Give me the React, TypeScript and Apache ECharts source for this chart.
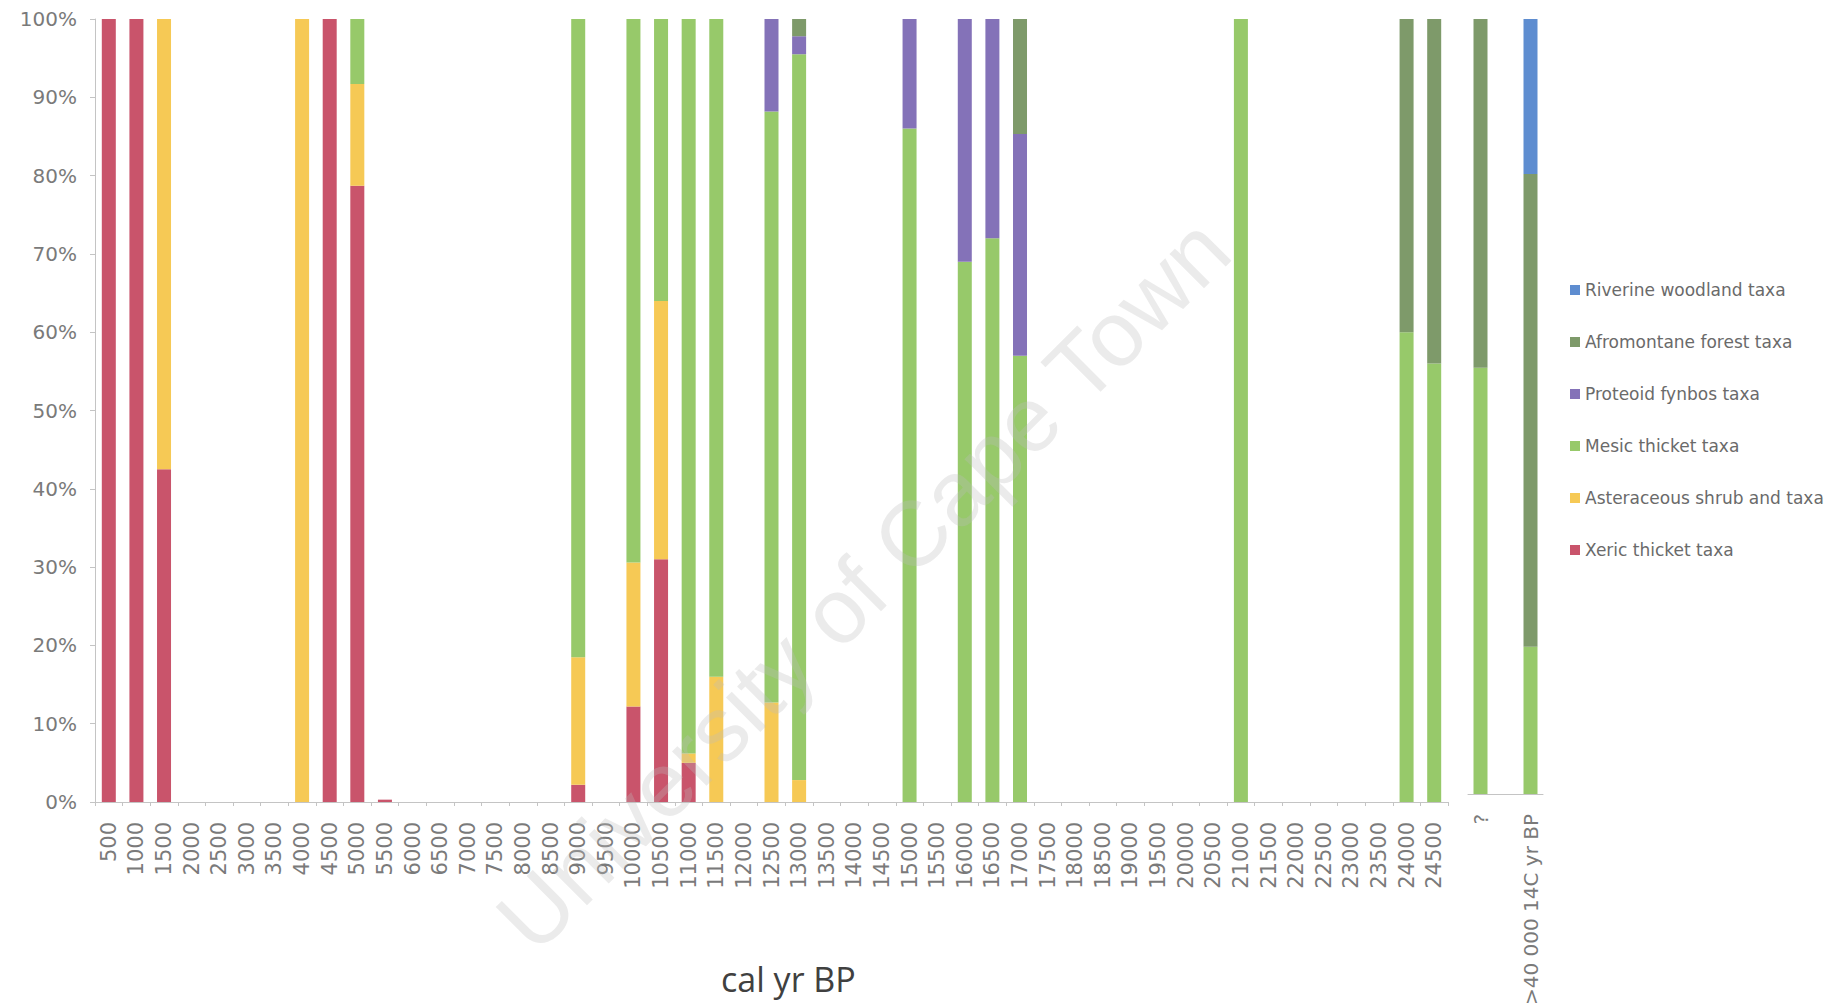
import React, { useEffect, useRef } from "react";
import * as echarts from "echarts";

// Main sequence categories (cal yr BP)
const categories: string[] = [
  "500", "1000", "1500", "2000", "2500", "3000", "3500", "4000", "4500", "5000",
  "5500", "6000", "6500", "7000", "7500", "8000", "8500", "9000", "9500", "10000",
  "10500", "11000", "11500", "12000", "12500", "13000", "13500", "14000", "14500", "15000",
  "15500", "16000", "16500", "17000", "17500", "18000", "18500", "19000", "19500", "20000",
  "20500", "21000", "21500", "22000", "22500", "23000", "23500", "24000", "24500",
];

// Separate panel categories (middle slot is an empty spacer)
const extraCategories: string[] = ["?", "", ">40 000 14C yr BP"];

const seriesNames: string[] = [
  "Xeric thicket taxa",
  "Asteraceous shrub and taxa",
  "Mesic thicket taxa",
  "Proteoid fynbos taxa",
  "Afromontane forest taxa",
  "Riverine woodland taxa",
];

const legendOrder: string[] = [
  "Riverine woodland taxa",
  "Afromontane forest taxa",
  "Proteoid fynbos taxa",
  "Mesic thicket taxa",
  "Asteraceous shrub and taxa",
  "Xeric thicket taxa",
];

const colors: string[] = ["#C9546B", "#F6C955", "#97C96A", "#8472B8", "#7E9A6A", "#5E8DD0"];

// Values (%) for the main categories, 49 entries each
const xeric: number[] = [
  100, 100, 42.5, 0, 0, 0, 0, 0, 100, 78.7,
  0.3, 0, 0, 0, 0, 0, 0, 2.2, 0, 12.2,
  31, 5, 0, 0, 0, 0, 0, 0, 0, 0,
  0, 0, 0, 0, 0, 0, 0, 0, 0, 0,
  0, 0, 0, 0, 0, 0, 0, 0, 0,
];
const asteraceous: number[] = [
  0, 0, 57.5, 0, 0, 0, 0, 100, 0, 13,
  0, 0, 0, 0, 0, 0, 0, 16.3, 0, 18.4,
  33, 1.2, 16, 0, 12.7, 2.8, 0, 0, 0, 0,
  0, 0, 0, 0, 0, 0, 0, 0, 0, 0,
  0, 0, 0, 0, 0, 0, 0, 0, 0,
];
const mesic: number[] = [
  0, 0, 0, 0, 0, 0, 0, 0, 0, 8.3,
  0, 0, 0, 0, 0, 0, 0, 81.5, 0, 69.4,
  36, 93.8, 84, 0, 75.5, 92.7, 0, 0, 0, 86,
  0, 69, 72, 57, 0, 0, 0, 0, 0, 0,
  0, 100, 0, 0, 0, 0, 0, 60, 56,
];
const proteoid: number[] = [
  0, 0, 0, 0, 0, 0, 0, 0, 0, 0,
  0, 0, 0, 0, 0, 0, 0, 0, 0, 0,
  0, 0, 0, 0, 11.8, 2.3, 0, 0, 0, 14,
  0, 31, 28, 28.3, 0, 0, 0, 0, 0, 0,
  0, 0, 0, 0, 0, 0, 0, 0, 0,
];
const afromontane: number[] = [
  0, 0, 0, 0, 0, 0, 0, 0, 0, 0,
  0, 0, 0, 0, 0, 0, 0, 0, 0, 0,
  0, 0, 0, 0, 0, 2.2, 0, 0, 0, 0,
  0, 0, 0, 14.7, 0, 0, 0, 0, 0, 0,
  0, 0, 0, 0, 0, 0, 0, 40, 44,
];
const riverine: number[] = [
  0, 0, 0, 0, 0, 0, 0, 0, 0, 0,
  0, 0, 0, 0, 0, 0, 0, 0, 0, 0,
  0, 0, 0, 0, 0, 0, 0, 0, 0, 0,
  0, 0, 0, 0, 0, 0, 0, 0, 0, 0,
  0, 0, 0, 0, 0, 0, 0, 0, 0,
];

// Values (%) for the separate panel
const xericExtra: (number | null)[] = [0, null, 0];
const asteraceousExtra: (number | null)[] = [0, null, 0];
const mesicExtra: (number | null)[] = [55, null, 19];
const proteoidExtra: (number | null)[] = [0, null, 0];
const afromontaneExtra: (number | null)[] = [45, null, 61];
const riverineExtra: (number | null)[] = [0, null, 20];

const mainData = [xeric, asteraceous, mesic, proteoid, afromontane, riverine];
const extraData = [xericExtra, asteraceousExtra, mesicExtra, proteoidExtra, afromontaneExtra, riverineExtra];

const yTicks = { min: 0, max: 100, interval: 10 };

export default function App() {
  const ref = useRef<HTMLDivElement>(null);

  useEffect(() => {
    if (!ref.current) return;
    const chart = echarts.init(ref.current, null, { renderer: "svg" });

    const labelStyle = {
      fontFamily: "DejaVu Sans",
      fontSize: 20,
      color: "#7a7a7a",
    };
    const axisGray = "#c4c4c4";

    const series: any[] = [];
    seriesNames.forEach((name, i) => {
      series.push({
        name,
        type: "bar",
        stack: "main",
        xAxisIndex: 0,
        yAxisIndex: 0,
        barWidth: 14,
        itemStyle: { color: colors[i] },
        data: mainData[i],
      });
    });
    seriesNames.forEach((name, i) => {
      series.push({
        name,
        type: "bar",
        stack: "extra",
        xAxisIndex: 1,
        yAxisIndex: 1,
        barWidth: 14,
        itemStyle: { color: colors[i] },
        data: extraData[i],
      });
    });

    const option: any = {
      animation: false,
      backgroundColor: "#ffffff",
      grid: [
        { left: 95, top: 19, width: 1353, height: 783 },
        { left: 1468, top: 19, width: 75, height: 783 },
      ],
      xAxis: [
        {
          type: "category",
          gridIndex: 0,
          data: categories,
          axisLine: { show: true, lineStyle: { color: axisGray, width: 1 } },
          axisTick: { show: true, length: 4, interval: 0, lineStyle: { color: axisGray } },
          axisLabel: { ...labelStyle, fontSize: 21, rotate: 90, interval: 0, margin: 20 },
          splitLine: { show: false },
        },
        {
          type: "category",
          gridIndex: 1,
          data: extraCategories,
          axisLine: { show: true, lineStyle: { color: axisGray, width: 1 } },
          axisTick: { show: false },
          axisLabel: { ...labelStyle, rotate: 90, interval: 0, margin: 20 },
          splitLine: { show: false },
        },
      ],
      yAxis: [
        {
          type: "value",
          gridIndex: 0,
          min: yTicks.min,
          max: yTicks.max,
          interval: yTicks.interval,
          axisLine: { show: true, lineStyle: { color: axisGray, width: 1 } },
          axisTick: { show: true, length: 5, lineStyle: { color: axisGray } },
          splitLine: { show: false },
          axisLabel: { ...labelStyle, formatter: "{value}%", margin: 18 },
        },
        {
          type: "value",
          gridIndex: 1,
          min: yTicks.min,
          max: yTicks.max,
          interval: yTicks.interval,
          show: false,
          splitLine: { show: false },
        },
      ],
      legend: {
        orient: "vertical",
        left: 1565,
        top: 275,
        itemWidth: 10,
        itemHeight: 10,
        itemGap: 32,
        icon: "rect",
        data: legendOrder,
        textStyle: {
          fontFamily: "DejaVu Sans",
          fontSize: 17,
          lineHeight: 20,
          color: "#6a6a6a",
        },
      },
      graphic: [
        {
          type: "text",
          left: 721,
          top: 962,
          style: {
            text: "cal yr BP",
            fontFamily: "Open Sans",
            fontSize: 34,
            fill: "#404040",
          },
        },
        {
          type: "text",
          x: 863,
          y: 584,
          rotation: Math.PI / 4,
          z: 100,
          silent: true,
          style: {
            text: "University of Cape Town",
            fontFamily: "Liberation Sans",
            fontSize: 92,
            fill: "rgba(190,190,190,0.3)",
            align: "center",
            verticalAlign: "middle",
          },
        },
      ],
      series,
    };

    chart.setOption(option);
    return () => chart.dispose();
  }, []);

  return (
    <div
      ref={ref}
      style={{ position: "fixed", left: 0, top: 0, width: 1841, height: 1008, background: "#fff" }}
    />
  );
}
